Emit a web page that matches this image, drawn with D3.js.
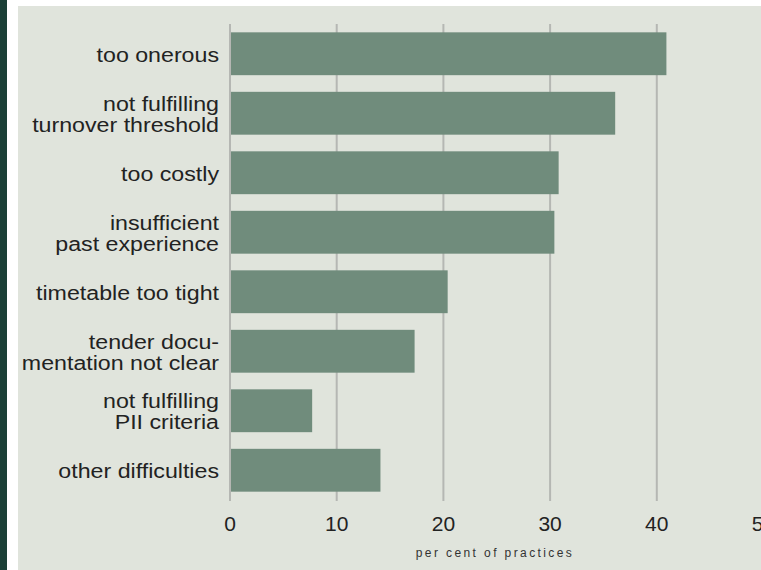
<!DOCTYPE html>
<html lang="en">
<head>
<meta charset="UTF-8">
<title>Difficulties</title>
<script src="https://cdn.jsdelivr.net/npm/d3@7"></script>
<style>
  body { margin: 0; background: #fff; }
</style>
</head>
<body>
<script>
// data
var labels = [
  ["too onerous"],
  ["not fulfilling", "turnover threshold"],
  ["too costly"],
  ["insufficient", "past experience"],
  ["timetable too tight"],
  ["tender docu-", "mentation not clear"],
  ["not fulfilling", "PII criteria"],
  ["other difficulties"]
];
var values = [40.9, 36.1, 30.8, 30.4, 20.4, 17.3, 7.7, 14.1];
var ticks = [0, 10, 20, 30, 40, 50];
var axisTitle = "per cent of practices";

var w = 761, h = 570;
var font = "Liberation Sans, Arial, sans-serif";

var svg = d3.select("body").append("svg")
  .attr("width", w)
  .attr("height", h);

// frame
svg.append("rect").attr("x", 0).attr("y", 0).attr("width", w).attr("height", h).attr("fill", "#fff");
svg.append("rect").attr("x", 18).attr("y", 6).attr("width", w - 18).attr("height", h - 6).attr("fill", "#e0e4dc");
svg.append("rect").attr("x", 0).attr("y", 0).attr("width", 7).attr("height", h).attr("fill", "#1b3f37");

var xScale = d3.scaleLinear().domain([0, 50]).range([230, 763.5]);
var yScale = d3.scaleBand()
  .domain(d3.range(values.length))
  .range([24, 500])
  .paddingInner(0.28)
  .paddingOuter(0.14);

// gridlines
svg.selectAll("line.grid")
  .data(ticks)
  .enter()
  .append("line")
  .attr("class", "grid")
  .attr("x1", function(d) { return xScale(d); })
  .attr("x2", function(d) { return xScale(d); })
  .attr("y1", 24)
  .attr("y2", 501)
  .attr("stroke", "#b5b7b3")
  .attr("stroke-width", 2);

// bars
svg.selectAll("rect.bar")
  .data(values)
  .enter()
  .append("rect")
  .attr("class", "bar")
  .attr("x", xScale(0) + 1)
  .attr("y", function(d, i) { return yScale(i); })
  .attr("width", function(d) { return xScale(d) - xScale(0) - 1; })
  .attr("height", yScale.bandwidth())
  .attr("fill", "#708c7c");

// category labels (glyphs in the original are a bit wide, hence the scale)
var lab = svg.selectAll("text.cat")
  .data(labels)
  .enter()
  .append("text")
  .attr("class", "cat")
  .attr("text-anchor", "end")
  .attr("font-family", font)
  .attr("font-size", 20)
  .attr("fill", "#222")
  .attr("transform", function(d, i) {
    var cy = yScale(i) + yScale.bandwidth() / 2;
    return "translate(219," + (cy + 8 - (d.length - 1) * 10.5) + ") scale(1.16,1)";
  });

lab.selectAll("tspan")
  .data(function(d) { return d; })
  .enter()
  .append("tspan")
  .attr("x", 0)
  .attr("dy", function(d, i) { return i === 0 ? 0 : 21; })
  .text(function(d) { return d; });

// tick labels
svg.selectAll("text.tick")
  .data(ticks)
  .enter()
  .append("text")
  .attr("class", "tick")
  .attr("x", function(d) { return xScale(d); })
  .attr("y", 531)
  .attr("text-anchor", "middle")
  .attr("font-family", font)
  .attr("font-size", 21)
  .attr("fill", "#222")
  .text(function(d) { return d; });

// axis title
svg.append("text")
  .attr("x", 495)
  .attr("y", 557)
  .attr("text-anchor", "middle")
  .attr("font-family", font)
  .attr("font-size", 12)
  .attr("letter-spacing", 2.4)
  .attr("fill", "#333")
  .text(axisTitle);
</script>
</body>
</html>
